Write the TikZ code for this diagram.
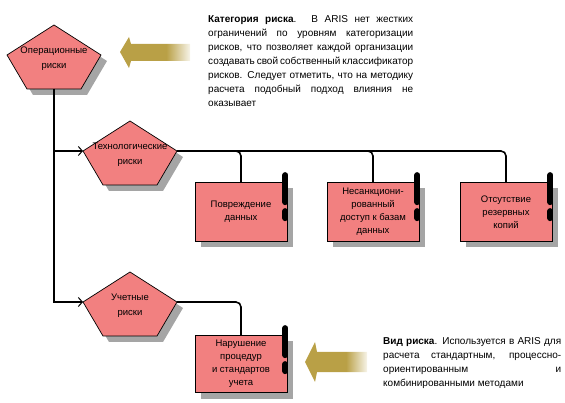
\documentclass[tikz,border=0pt]{standalone}
\usepackage{fontspec}
\setmainfont{Liberation Sans}
\usetikzlibrary{positioning,arrows.meta,shapes.geometric,shadows}

\definecolor{riskpink}{RGB}{242,128,128}
\definecolor{shadegray}{RGB}{165,165,165}
\definecolor{hintolive}{RGB}{185,160,70}

\pgfdeclarehorizontalshading{hintfade}{100bp}{color(0bp)=(hintolive); color(58bp)=(hintolive); color(75bp)=(hintolive!12); color(100bp)=(hintolive!12)}

\tikzset{
  riskshadow/.style={drop shadow={shadow xshift=6pt, shadow yshift=-6pt, fill=shadegray, opacity=1}},
  riskshape/.style={draw=black, fill=riskpink, line width=0.7pt, riskshadow},
  risktext/.style={font=\fontsize{9.5}{15}\selectfont, align=center, inner sep=0pt},
  riskbox/.style={riskshape, minimum width=92pt, minimum height=59pt, inner sep=1pt,
    align=center, font=\fontsize{9.5}{13}\selectfont},
  riskbar/.style={line width=6pt, line cap=round},
  conn/.style={line width=1.6pt},
  connarrow/.style={conn, -{Straight Barb[length=4pt,width=9pt,line width=1pt]}},
  hinttext/.style={font=\fontsize{10}{14}\selectfont, align=justify, inner sep=0pt, anchor=north west},
  riskcat/.pic={
    \draw[riskshape] (-47,30) -- (0,0) -- (47,30) -- (27,64) -- (-27,64) -- cycle;
    \coordinate (-w) at (-47,30);
    \coordinate (-e) at (47,30);
    \coordinate (-s) at (0,64);
    \node[risktext] (-txt) at (0,34) {#1};
  }
}

\newcommand{\riskmark}[1]{%
  \draw[riskbar] ([shift={(-2,-7)}]#1.north east) -- ++(0,27);
  \draw[riskbar] ([shift={(-2,29)}]#1.north east) -- ++(0,7);
}

\begin{document}
\begin{tikzpicture}[x=1pt,y=-1pt]
\useasboundingbox (0,0) rectangle (565,403);

% risk categories
\pic (oper) at (54,25) {riskcat={Операционные\\риски}};
\pic (tech) at (130,121) {riskcat={Технологические\\риски}};
\pic (acct) at (130,272) {riskcat={Учетные\\риски}};

% risk kinds
\node[riskbox] (dmg) at (241,212) {Повреждение\\данных};
\node[riskbox] (nsd) at (373,212) {Несанкциони-\\рованный\\доступ к базам\\данных};
\node[riskbox] (bak) at (506,212) {Отсутствие\\резервных\\копий};
\node[riskbox, minimum height=57pt] (proc) at (241,364) {Нарушение\\процедур\\и стандартов\\учета};

\riskmark{dmg}
\riskmark{nsd}
\riskmark{bak}
\riskmark{proc}

% connections
\draw[connarrow] (oper-s) |- (tech-w);
\draw[connarrow] (oper-s) |- (acct-w);
\draw[conn, rounded corners=5pt] (tech-e) -| (dmg.north);
\draw[conn, rounded corners=5pt] (tech-e) -| (nsd.north);
\draw[conn, rounded corners=5pt] (tech-e) -| (bak.north);
\draw[conn, rounded corners=5pt] (acct-e) -| (proc.north);

% hint arrows
\shade[shading=hintfade] (120,52) -- (129,37) -- (131,44) -- (190,44) -- (190,61) -- (131,61) -- (129,68) -- cycle;
\shade[shading=hintfade] (305,362) -- (315,342) -- (317,352) -- (367,352) -- (367,372) -- (317,372) -- (315,382) -- cycle;

% comments
\node[hinttext, text width=205pt] (cattext) at (208,15) {\textbf{Категория риска}. В ARIS нет жестких\linebreak
  ограничений по уровням категоризации\linebreak
  рисков, что позволяет каждой организации\linebreak
  создавать свой собственный классификатор\linebreak
  рисков. Следует отметить, что на методику\linebreak
  расчета подобный подход влияния не\linebreak
  оказывает};
\node[hinttext, text width=178pt] (kindtext) at (383,337) {\textbf{Вид риска}. Используется в ARIS для\linebreak
  расчета стандартным, процессно-\linebreak
  ориентированным и\linebreak
  комбинированными методами};

\end{tikzpicture}
\end{document}
